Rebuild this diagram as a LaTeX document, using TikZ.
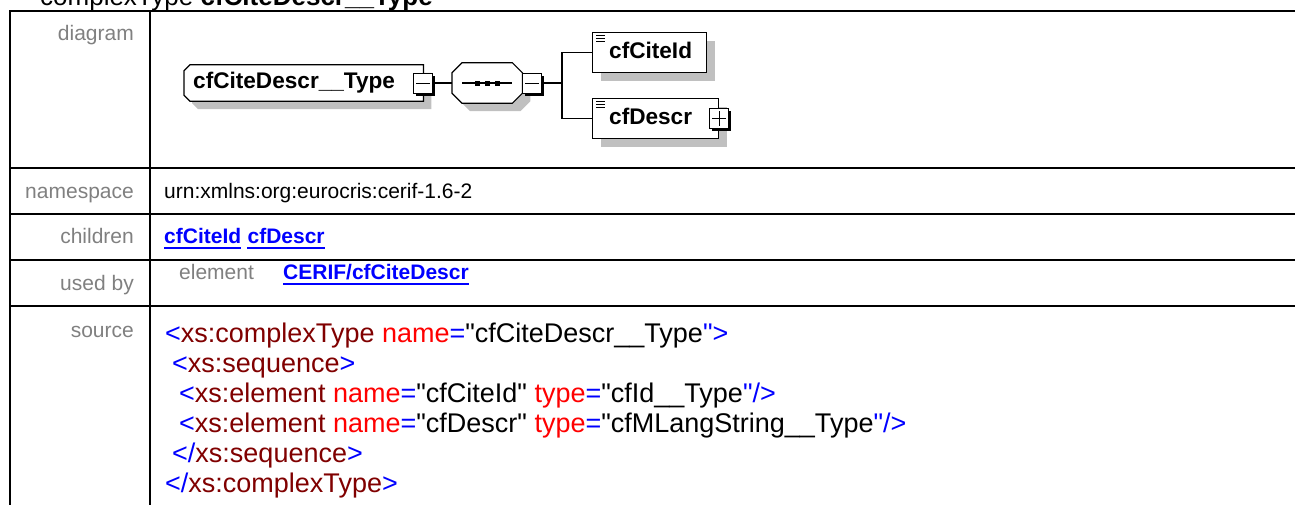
\documentclass[tikz,border=0pt]{standalone}
\usepackage{fontspec}
\setmainfont{Liberation Sans}
\newfontfamily\codefont{Liberation Sans}
\usetikzlibrary{shadows}
\definecolor{labelgray}{HTML}{808080}
\definecolor{linkblue}{HTML}{0000FF}
\definecolor{tagblue}{HTML}{0000FF}
\definecolor{elemred}{HTML}{800000}
\definecolor{attrred}{HTML}{FF0000}
\definecolor{shadowgray}{HTML}{C0C0C0}
\newcommand{\xtag}[1]{\textcolor{tagblue}{#1}}
\newcommand{\xelem}[1]{\textcolor{elemred}{#1}}
\newcommand{\xattr}[1]{\textcolor{attrred}{#1}}
\begin{document}
\begin{tikzpicture}[x=1pt,y=-1pt,
    tableline/.style={black, line width=2pt, line cap=rect},
    rowlabel/.style={anchor=base east, inner sep=0pt, text=labelgray, font=\fontsize{21}{25}\selectfont},
    cell/.style={anchor=base west, inner sep=0pt, font=\fontsize{21}{25}\selectfont},
    linktext/.style={cell, text=linkblue, font=\fontsize{21}{25}\selectfont\bfseries},
    linkline/.style={linkblue, line width=2pt},
    srcline/.style={anchor=base west, inner sep=0pt, font=\codefont\fontsize{27}{30}\selectfont},
    boxlabel/.style={anchor=base west, inner sep=0pt, font=\fontsize{22.6}{27}\selectfont\bfseries},
    dshadow/.style={drop shadow={shadow xshift=8pt, shadow yshift=-8pt, fill=shadowgray, opacity=1}},
    boxframe/.style={rectangle, inner sep=0pt},
    outline/.style={draw=black, fill=white, line width=1.2pt, line join=miter},
    elembox/.style={rectangle, draw, fill=white, line width=1.2pt, inner sep=0pt},
    expbox/.style={rectangle, draw, fill=white, line width=1pt, inner sep=0pt,
        minimum width=19pt, minimum height=20pt,
        drop shadow={shadow xshift=2.5pt, shadow yshift=-2.5pt, fill=black, opacity=1}},
    expsign/.style={black, line width=1pt},
    connector/.style={black, line width=1.2pt},
    iconline/.style={black, line width=1pt}
  ]
    \useasboundingbox (0,0) rectangle (1295,504);
    \clip (0,0) rectangle (1295,504);

    % table
    \foreach \y in {11,168,214,260,306}
        \draw[tableline] (10,\y) -- (1300,\y);
    \foreach \x in {10,150}
        \draw[tableline] (\x,11) -- (\x,510);

    \node[anchor=base west, inner sep=0pt, font=\fontsize{26}{30}\selectfont] (title) at (40,5)
        {complexType \textbf{cfCiteDescr\_\_Type}};

    % diagram
    \node[boxframe, minimum width=239pt, minimum height=36pt, anchor=west] (typebox) at (184,83) {};
    \draw[outline, dshadow] ([xshift=6pt]typebox.north west) -- (typebox.north east)
        -- (typebox.south east) -- ([xshift=6pt]typebox.south west)
        -- ([yshift=6pt]typebox.south west) -- ([yshift=-6pt]typebox.north west) -- cycle;
    \node[boxlabel] (typename) at (193,88) {cfCiteDescr\_\_Type};
    \node[expbox] (typeexp) at (typebox.east) {};
    \draw[expsign] ([xshift=3pt]typeexp.west) -- ([xshift=-3pt]typeexp.east);

    \node[boxframe, minimum width=70pt, minimum height=40pt, anchor=west] (seq) at (452,83) {};
    \draw[outline, dshadow] ([xshift=10pt]seq.north west) -- ([xshift=-10pt]seq.north east)
        -- ([yshift=-10pt]seq.north east) -- ([yshift=10pt]seq.south east)
        -- ([xshift=-10pt]seq.south east) -- ([xshift=10pt]seq.south west)
        -- ([yshift=10pt]seq.south west) -- ([yshift=-10pt]seq.north west) -- cycle;
    \coordinate (seqmid) at (seq.center);
    \draw[connector] ([xshift=-25pt]seqmid) -- ([xshift=25pt]seqmid);
    \foreach \d in {-10pt,0pt,10pt}
        \fill[black] ([xshift=\d]seqmid) +(-2.5,-2.5) rectangle +(2.5,2.5);
    \node[expbox, anchor=west] (seqexp) at (seq.east) {};
    \draw[expsign] ([xshift=3pt]seqexp.west) -- ([xshift=-3pt]seqexp.east);

    \node[elembox, dshadow, minimum width=114pt, minimum height=40pt, anchor=north west] (citebox) at (592,32) {};
    \node[boxlabel] (citename) at (609,58) {cfCiteId};
    \node[elembox, dshadow, minimum width=126pt, minimum height=40pt, anchor=north west] (descrbox) at (592,98) {};
    \node[boxlabel] (descrname) at (609,124) {cfDescr};
    \node[expbox] (descrexp) at (descrbox.east) {};
    \draw[expsign] ([xshift=3pt]descrexp.west) -- ([xshift=-3pt]descrexp.east);
    \draw[expsign] ([yshift=-3pt]descrexp.north) -- ([yshift=3pt]descrexp.south);

    \foreach \b in {citebox,descrbox}
        \foreach \k in {3.5pt,6.5pt,9.5pt}
            \draw[iconline] ([xshift=4pt,yshift=-\k]\b.north west) -- ++(9,0);

    \draw[connector] (typeexp.east) -- (seq.west);
    \coordinate (split) at (562,83);
    \draw[connector] (seqexp.east) -- (split);
    \draw[connector] (split) |- (citebox.west);
    \draw[connector] (split) |- (descrbox.west);

    \node[rowlabel] (lbldiagram) at (134,40) {diagram};

    % namespace, children, used by
    \node[rowlabel] (lblns) at (134,198) {namespace};
    \node[cell] (nsval) at (164,198) {urn:xmlns:org:eurocris:cerif-1.6-2};

    \node[rowlabel] (lblchildren) at (134,243) {children};
    \node[linktext] (lnkcite) at (164,243) {cfCiteId};
    \node[linktext] (lnkdescr) at ([xshift=6pt]lnkcite.base east) {cfDescr};

    \node[rowlabel] (lblused) at (134,290) {used by};
    \node[cell, text=labelgray] (usedkind) at (179,279) {element};
    \node[linktext] (lnkcerif) at (283,279) {CERIF/cfCiteDescr};

    \foreach \n in {lnkcite,lnkdescr,lnkcerif}
        \draw[linkline] ([yshift=-4.5pt]\n.base west) -- ([yshift=-4.5pt]\n.base east);

    % source
    \node[rowlabel] (lblsource) at (134,337) {source};
    \node[srcline] (src1) at (165,342) {\xtag{<}\xelem{xs:complexType} \xattr{name}\xtag{=}"cfCiteDescr\_\_Type\xtag{">}};
    \node[srcline] (src2) at (172,372) {\xtag{<}\xelem{xs:sequence}\xtag{>}};
    \node[srcline] (src3) at (179,402) {\xtag{<}\xelem{xs:element} \xattr{name}\xtag{=}"cfCiteId" \xattr{type}\xtag{=}"cfId\_\_Type\xtag{"/>}};
    \node[srcline] (src4) at (179,432) {\xtag{<}\xelem{xs:element} \xattr{name}\xtag{=}"cfDescr" \xattr{type}\xtag{=}"cfMLangString\_\_Type\xtag{"/>}};
    \node[srcline] (src5) at (172,462) {\xtag{</}\xelem{xs:sequence}\xtag{>}};
    \node[srcline] (src6) at (165,492) {\xtag{</}\xelem{xs:complexType}\xtag{>}};
\end{tikzpicture}
\end{document}
